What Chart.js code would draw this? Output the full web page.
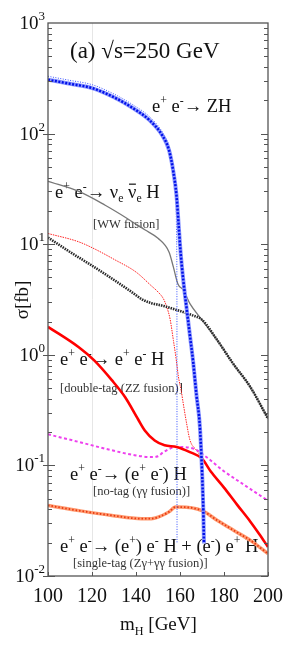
<!DOCTYPE html>
<html>
<head>
<meta charset="utf-8">
<script src="https://cdn.jsdelivr.net/npm/chart.js@4.4.1/dist/chart.umd.min.js"></script>
<style>
  html, body { margin: 0; padding: 0; background: #fff; }
  #wrap { width: 300px; height: 654px; position: relative; }
</style>
</head>
<body>
<div id="wrap"><canvas id="c"></canvas></div>
<script>
/* Higgs production cross sections at sqrt(s)=250 GeV */

/* ── Data ─────────────────────────────────────────────────────────────── */

var xTicks      = [100, 120, 140, 160, 180, 200];
var yTickValues = [0.01, 0.1, 1, 10, 100, 1000];
var yTickExps   = ['-2', '-1', '0', '1', '2', '3'];

// e+e- -> ZH (with width, thick blue)
var massZH  = [100, 110, 120, 130, 139, 146, 152, 155, 157, 158.4, 159.3, 160.2, 161.5, 163, 164.5, 166, 167.5, 169, 170, 170.6, 170.9];
var sigmaZH = [307, 282, 258, 213, 168, 133, 96, 71, 45, 27.7, 15.8, 8.8, 4.7, 2.64, 1.5, 0.855, 0.43, 0.23, 0.09, 0.039, 0.0197];

// e+e- -> ZH (narrow, thin blue dotted)
var massZHn  = [100, 110, 120, 130, 139, 146, 152, 155, 157, 158.1, 158.45, 158.6, 158.65];
var sigmaZHn = [330, 303, 277, 228, 180, 143, 103, 77, 50, 30, 12, 3, 0.02];

// WW fusion (gray)
var massWW  = [100, 114, 126, 136, 144, 150, 155, 157, 159, 161.5, 164.5, 170, 177, 184, 192, 200];
var sigmaWW = [37, 30, 22.5, 17.1, 13.5, 11.3, 8.5, 6.2, 4.4, 3.84, 2.9, 2.07, 1.35, 0.84, 0.51, 0.265];

// black dotted
var massBk  = [100, 110, 120, 130, 138, 143, 147, 152, 158.5, 165, 170, 177, 184, 192, 200];
var sigmaBk = [11.5, 8.5, 6.4, 4.75, 3.7, 3.15, 2.93, 2.78, 2.54, 2.3, 2.07, 1.35, 0.84, 0.51, 0.265];

// red thin dotted
var massRt  = [100, 114, 121, 130, 140, 147, 150, 152.5, 154, 155.5, 157, 158.3, 159.3, 160.5, 161.5, 163, 164.5, 167.5, 170];
var sigmaRt = [12.5, 10.5, 9.1, 7.3, 5.6, 4.2, 3.7, 3.2, 2.7, 2.1, 1.35, 0.9, 0.63, 0.48, 0.36, 0.24, 0.17, 0.137, 0.118];

// double-tag (ZZ fusion), thick red
var massZZ  = [100, 114, 121, 129, 135, 141, 144, 148.5, 153, 158.5, 164.5, 170, 174, 180, 186, 192, 196, 200];
var sigmaZZ = [1.79, 1.17, 0.89, 0.59, 0.415, 0.26, 0.207, 0.168, 0.152, 0.147, 0.132, 0.115, 0.088, 0.063, 0.044, 0.031, 0.024, 0.0183];

// no-tag (gamma gamma fusion), magenta dashed
var massGG  = [100, 114, 129, 139, 147, 150, 152.5, 158.5, 166, 172, 179.5, 188.5, 200];
var sigmaGG = [0.191, 0.163, 0.137, 0.124, 0.119, 0.121, 0.132, 0.147, 0.142, 0.119, 0.090, 0.068, 0.048];

// single-tag (Z gamma + gamma gamma fusion), orange
var massST  = [100, 114, 129, 142.5, 147, 150, 155, 158, 160, 170, 177, 184.5, 192, 200];
var sigmaST = [0.0435, 0.039, 0.0353, 0.033, 0.033, 0.034, 0.038, 0.042, 0.042, 0.039, 0.0318, 0.0258, 0.021, 0.0159];

/* ── Helpers ──────────────────────────────────────────────────────────── */

var SERIF = '"Liberation Serif", "DejaVu Serif", serif';

function pts(xs, ys) {
  return xs.map(function (x, i) { return { x: x, y: ys[i] }; });
}

function line(data, color, width, dash, order) {
  return {
    data: data,
    borderColor: color,
    borderWidth: width,
    borderDash: dash || [],
    pointRadius: 0,
    fill: false,
    cubicInterpolationMode: 'monotone',
    borderJoinStyle: 'round',
    order: order
  };
}

// parts: [text, kind]; kind '' normal, '^' superscript, '_' subscript, 'bar' overlined
function richText(ctx, x, y, parts, size, color) {
  ctx.save();
  ctx.fillStyle = color;
  ctx.textAlign = 'left';
  ctx.textBaseline = 'alphabetic';
  var cx = x;
  parts.forEach(function (p) {
    var small = p[1] === '^' || p[1] === '_';
    var s  = small ? size * 0.64 : size;
    var dy = p[1] === '^' ? -size * 0.42 : (p[1] === '_' ? size * 0.24 : 0);
    ctx.font = s + 'px ' + SERIF;
    ctx.fillText(p[0], cx, y + dy);
    var w = ctx.measureText(p[0]).width;
    if (p[1] === 'bar') ctx.fillRect(cx + 1, y - size * 0.78, w - 1.5, 1.2);
    cx += w;
  });
  ctx.restore();
}

/* ── Labels ───────────────────────────────────────────────────────────── */

var labels = [
  { x: 70,  y: 58,  size: 23, color: '#111', parts: [['(a) \u221As=250 GeV', '']] },
  { x: 152, y: 112, size: 18.5, color: '#111', parts: [['e', ''], ['+', '^'], [' e', ''], ['-', '^'], ['\u2192 ZH', '']] },
  { x: 55,  y: 198, size: 18.5, color: '#111', parts: [['e', ''], ['+', '^'], [' e', ''], ['-', '^'], ['\u2192 \u03BD', ''], ['e', '_'], [' ', ''], ['\u03BD', 'bar'], ['e', '_'], [' H', '']] },
  { x: 93,  y: 228, size: 12.5, color: '#333', parts: [['[WW fusion]', '']] },
  { x: 60,  y: 365, size: 18.5, color: '#111', parts: [['e', ''], ['+', '^'], [' e', ''], ['-', '^'], ['\u2192 e', ''], ['+', '^'], [' e', ''], ['-', '^'], [' H', '']] },
  { x: 60,  y: 392, size: 12.5, color: '#333', parts: [['[double-tag (ZZ fusion)]', '']] },
  { x: 70,  y: 480, size: 18.5, color: '#111', parts: [['e', ''], ['+', '^'], [' e', ''], ['-', '^'], ['\u2192 (e', ''], ['+', '^'], [' e', ''], ['-', '^'], [') H', '']] },
  { x: 93,  y: 495, size: 12.5, color: '#333', parts: [['[no-tag (\u03B3\u03B3 fusion)]', '']] },
  { x: 60,  y: 552, size: 18.5, color: '#111', parts: [['e', ''], ['+', '^'], [' e', ''], ['-', '^'], ['\u2192 (e', ''], ['+', '^'], [') e', ''], ['-', '^'], [' H + (e', ''], ['-', '^'], [') e', ''], ['+', '^'], [' H', '']] },
  { x: 73,  y: 567, size: 12.5, color: '#333', parts: [['[single-tag (Z\u03B3+\u03B3\u03B3 fusion)]', '']] },
  { x: 120, y: 630, size: 19, color: '#111', parts: [['m', ''], ['H', '_'], [' [GeV]', '']] }
];

/* ── Plugin: frame, ticks, texts ──────────────────────────────────────── */

var decor = {
  id: 'decor',
  beforeDatasetsDraw: function (chart) {
    var ctx = chart.ctx;
    labels.forEach(function (l) { richText(ctx, l.x, l.y, l.parts, l.size, l.color); });
  },
  afterDraw: function (chart) {
    var ctx = chart.ctx;
    var a = chart.chartArea;
    var ys = chart.scales.y, xs = chart.scales.x;

    ctx.save();
    ctx.strokeStyle = '#555';
    ctx.lineWidth = 1.3;
    ctx.strokeRect(a.left, a.top, a.right - a.left, a.bottom - a.top);

    // log ticks on left and right
    ctx.lineWidth = 1;
    ctx.beginPath();
    for (var d = -2; d <= 2; d++) {
      for (var m = 1; m <= 9; m++) {
        var py = Math.round(ys.getPixelForValue(m * Math.pow(10, d))) + 0.5;
        var len = m === 1 ? 7 : 4;
        ctx.moveTo(a.left - (m === 1 ? 5 : 0), py); ctx.lineTo(a.left + len, py);
        ctx.moveTo(a.right - len, py); ctx.lineTo(a.right, py);
      }
    }
    // bottom ticks
    xTicks.forEach(function (t) {
      var px = Math.round(xs.getPixelForValue(t)) + 0.5;
      ctx.moveTo(px, a.bottom); ctx.lineTo(px, a.bottom - 4);
    });
    ctx.stroke();

    // y tick labels 10^n
    ctx.fillStyle = '#111';
    ctx.textBaseline = 'alphabetic';
    yTickValues.forEach(function (v, i) {
      var py = ys.getPixelForValue(v);
      ctx.font = '13px ' + SERIF;
      ctx.textAlign = 'left';
      var ew = ctx.measureText(yTickExps[i]).width;
      ctx.font = '19px ' + SERIF;
      var bw = ctx.measureText('10').width;
      var x0 = 45 - ew - bw;
      ctx.fillText('10', x0, py + 6);
      ctx.font = '13px ' + SERIF;
      ctx.fillText(yTickExps[i], x0 + bw, py - 3);
    });

    // y axis title
    ctx.translate(22, 300);
    ctx.rotate(-Math.PI / 2);
    ctx.font = '19px ' + SERIF;
    ctx.textAlign = 'center';
    ctx.fillText('\u03C3[fb]', 0, 6);
    ctx.restore();
  }
};

/* ── Chart ────────────────────────────────────────────────────────────── */

new Chart(document.getElementById('c'), {
  type: 'line',
  data: {
    datasets: [
      line(pts(massZH, sigmaZH), '#0010e8', 2.5, [2, 1.5], 0),
      line(pts(massZH, sigmaZH), '#8a96ff', 4, [], 1),
      line(pts(massZZ, sigmaZZ), '#ff0000', 2.6, [], 2),
      line(pts(massZHn, sigmaZHn), '#3550ff', 1, [1, 1.5], 3),
      line(pts(massST, sigmaST), '#e83a10', 1.8, [1.5, 2], 4),
      line(pts(massST, sigmaST), '#ff9a70', 3.5, [], 5),
      line(pts(massGG, sigmaGG), '#ee40ee', 2, [3, 2.5], 6),
      line(pts(massBk, sigmaBk), '#2a2a2a', 2.6, [1.5, 1], 7),
      line(pts(massRt, sigmaRt), '#ff2020', 1, [1.5, 1], 8),
      line(pts(massWW, sigmaWW), '#777777', 1.3, [], 9)
    ]
  },
  options: {
    responsive: true,
    maintainAspectRatio: false,
    animation: false,
    layout: { padding: { top: 23, right: 32, left: 0, bottom: 0 } },
    plugins: { legend: { display: false }, tooltip: { enabled: false } },
    scales: {
      x: {
        type: 'linear',
        min: 100,
        max: 200,
        afterFit: function (s) { s.height = 78; },
        afterBuildTicks: function (s) { s.ticks = xTicks.map(function (v) { return { value: v }; }); },
        ticks: { font: { family: SERIF, size: 20 }, color: '#111', padding: 9, maxRotation: 0 },
        grid: {
          drawTicks: false,
          color: function (c) { return c.tick && c.tick.value === 120 ? '#e6e6e6' : 'rgba(0,0,0,0)'; }
        },
        border: { display: false }
      },
      y: {
        type: 'logarithmic',
        min: 0.01,
        max: 1000,
        afterFit: function (s) { s.width = 48; },
        ticks: { display: false },
        grid: { display: false },
        border: { display: false }
      }
    }
  },
  plugins: [decor]
});
</script>
</body>
</html>
